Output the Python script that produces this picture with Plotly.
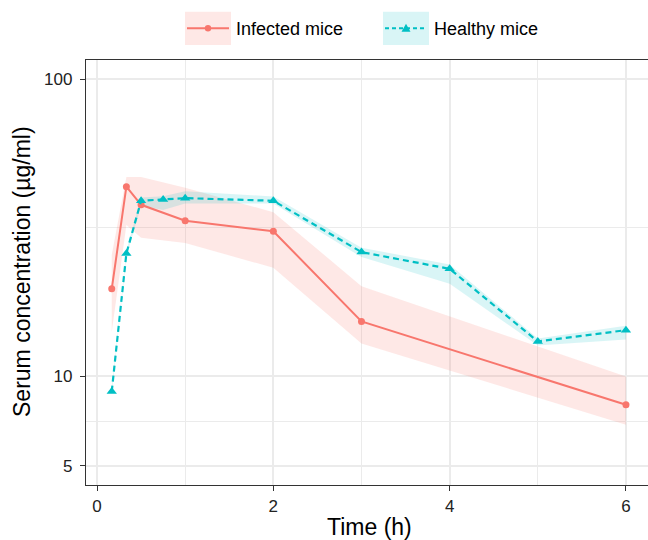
import plotly.graph_objects as go

# ---- data ----
inf_t = [0.167, 0.333, 0.5, 1, 2, 3, 6]
inf_mean = [19.7, 43.5, 37.8, 33.4, 30.8, 15.3, 8.02]
inf_upper = [25.6, 46.9, 46.9, 43.1, 35.7, 20.1, 9.98]
inf_lower = [14.1, 32.3, 29.3, 28.1, 23.2, 12.9, 6.87]

hea_t = [0.167, 0.333, 0.5, 0.75, 1, 2, 3, 4, 5, 6]
hea_mean = [8.89, 25.9, 39.0, 39.4, 39.8, 39.0, 26.2, 23.0, 13.1, 14.3]
hea_upper = [9.1, 26.5, 40.0, 40.4, 42.0, 40.3, 27.1, 23.8, 13.4, 14.8]
hea_lower = [8.7, 25.3, 37.5, 36.3, 38.2, 38.2, 25.2, 20.5, 12.7, 13.3]

x_ticks = [0, 2, 4, 6]
x_minor = [1, 3, 5]
y_ticks = [5, 10, 100]
y_minor = [7.07, 31.62]

series_names = ["Infected mice", "Healthy mice"]

RED = "#F8766D"
CYAN = "#00BFC4"
RED_FILL = "rgba(248,118,109,0.17)"
CYAN_FILL = "rgba(0,191,196,0.15)"
FONT = "Liberation Sans, Arial, sans-serif"

fig = go.Figure()

# ribbons
fig.add_trace(go.Scatter(x=inf_t + inf_t[::-1], y=inf_upper + inf_lower[::-1],
                         fill="toself", fillcolor=RED_FILL, line=dict(width=0),
                         mode="lines", hoverinfo="skip", showlegend=False))
fig.add_trace(go.Scatter(x=hea_t + hea_t[::-1], y=hea_upper + hea_lower[::-1],
                         fill="toself", fillcolor=CYAN_FILL, line=dict(width=0),
                         mode="lines", hoverinfo="skip", showlegend=False))

# lines
fig.add_trace(go.Scatter(x=inf_t, y=inf_mean, mode="lines+markers", name=series_names[0],
                         line=dict(color=RED, width=2),
                         marker=dict(symbol="circle", size=7, color=RED),
                         showlegend=False))
fig.add_trace(go.Scatter(x=hea_t, y=hea_mean, mode="lines+markers", name=series_names[1],
                         line=dict(color=CYAN, width=2.2, dash="6px,4px"),
                         marker=dict(symbol="triangle-up", size=9, color=CYAN),
                         showlegend=False))

axis_common = dict(
    ticks="outside", ticklen=5, tickcolor="#333333", tickwidth=1.3,
    showline=True, linecolor="#333333", linewidth=1.3,
    showgrid=True, gridcolor="#EBEBEB", gridwidth=1.6,
    zeroline=False, tickfont=dict(size=17, color="#222222", family=FONT),
)

fig.update_xaxes(range=[-0.125, 6.25], tickmode="array", tickvals=x_ticks,
                 mirror=True,
                 minor=dict(tickvals=x_minor, showgrid=True, gridcolor="#EBEBEB",
                            gridwidth=1.1, ticks=""),
                 **axis_common)
fig.update_yaxes(type="log", range=[0.634, 2.065], tickmode="array",
                 tickvals=y_ticks, ticktext=[str(v) for v in y_ticks],
                 ticklabelstandoff=4,
                 minor=dict(tickvals=y_minor, showgrid=True, gridcolor="#EBEBEB",
                            gridwidth=1.1, ticks=""),
                 **axis_common)

W, H = 648, 540
L, R, T, B = 86, 0, 60, 55
PW, PH = W - L - R, H - T - B


def px(x):
    return (x - L) / PW


def py(y):
    return (H - B - y) / PH


shapes = []
annotations = []

# axis titles
annotations.append(dict(text="Time (h)", x=px(369), y=py(527), xref="paper", yref="paper",
                        xanchor="center", yanchor="middle", showarrow=False,
                        font=dict(size=23, color="#000000", family=FONT)))
annotations.append(dict(text="Serum concentration (µg/ml)", x=px(22), y=py(272),
                        xref="paper", yref="paper", textangle=-90,
                        xanchor="center", yanchor="middle", showarrow=False,
                        font=dict(size=23, color="#000000", family=FONT)))

# custom legend (ggplot style keys)
legend_keys = [
    dict(x0=185, x1=231, fill=RED_FILL, color=RED, dash="solid", marker="circle",
         label=series_names[0], tx=234),
    dict(x0=383, x1=429, fill=CYAN_FILL, color=CYAN, dash="4px,3px", marker="triangle",
         label=series_names[1], tx=432),
]
ky0, ky1, kyc = 11.7, 45, 28.3
for k in legend_keys:
    shapes.append(dict(type="rect", xref="paper", yref="paper",
                       x0=px(k["x0"]), x1=px(k["x1"]), y0=py(ky1), y1=py(ky0),
                       fillcolor=k["fill"], line=dict(width=0), layer="above"))
    shapes.append(dict(type="line", xref="paper", yref="paper",
                       x0=px(k["x0"] + 2), x1=px(k["x1"] - 2), y0=py(kyc), y1=py(kyc),
                       line=dict(color=k["color"], width=2, dash=k["dash"]), layer="above"))
    cx = (k["x0"] + k["x1"]) / 2
    if k["marker"] == "circle":
        shapes.append(dict(type="circle", xref="paper", yref="paper",
                           xsizemode="pixel", ysizemode="pixel",
                           xanchor=px(cx), yanchor=py(kyc),
                           x0=-3.2, x1=3.2, y0=-3.2, y1=3.2,
                           fillcolor=k["color"], line=dict(width=0), layer="above"))
    else:
        shapes.append(dict(type="path", xref="paper", yref="paper",
                           xsizemode="pixel", ysizemode="pixel",
                           xanchor=px(cx), yanchor=py(kyc),
                           path="M -4.5 -3.5 L 4.5 -3.5 L 0 4.5 Z",
                           fillcolor=k["color"], line=dict(width=0), layer="above"))
    annotations.append(dict(text=k["label"], x=px(k["tx"]), y=py(kyc + 0.5),
                            xref="paper", yref="paper", xanchor="left", yanchor="middle",
                            showarrow=False,
                            font=dict(size=18, color="#000000", family=FONT)))

fig.update_layout(
    width=W, height=H,
    margin=dict(l=L, r=R, t=T, b=B),
    plot_bgcolor="white", paper_bgcolor="white",
    showlegend=False,
    font=dict(family=FONT),
    shapes=shapes, annotations=annotations,
)

fig.write_html("out.html",
               config={"displayModeBar": False},
               post_script="document.body.style.margin='0px';document.body.style.overflow='hidden';")
